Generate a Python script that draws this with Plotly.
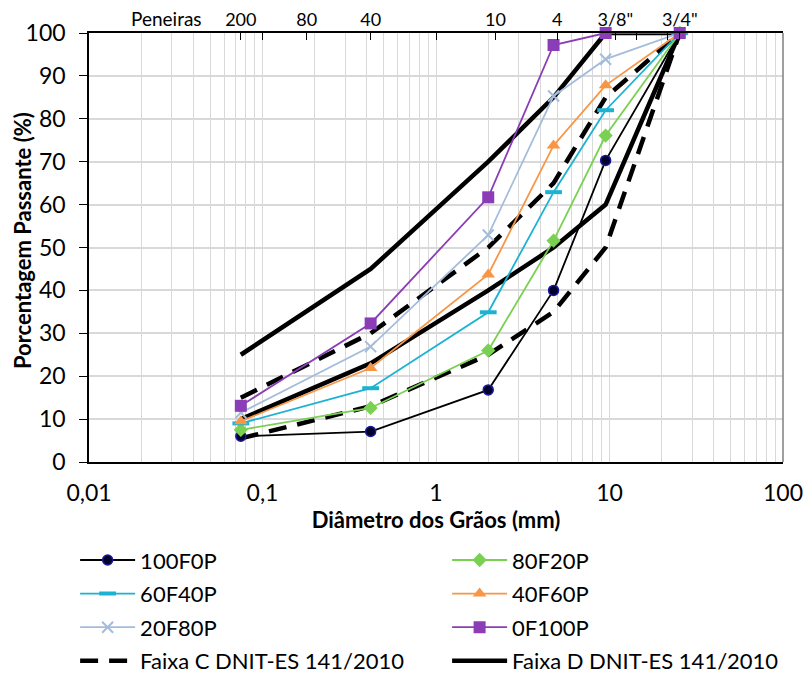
import plotly.graph_objects as go

# ---- data ----
sieve_mm = [0.075, 0.42, 2.0, 4.76, 9.5, 25.4]

s_100F0P = [6.0, 7.1, 16.8, 40.0, 70.3, 100]
s_80F20P = [7.5, 12.6, 26.0, 51.6, 76.1, 100]
s_60F40P = [9.0, 17.2, 34.9, 62.9, 82.0, 100]
s_40F60P = [9.5, 21.9, 43.7, 73.8, 87.8, 100]
s_20F80P = [11.5, 26.9, 52.9, 85.3, 93.9, 100]
s_0F100P = [13.1, 32.3, 61.7, 97.2, 100, 100]

faixa_c_upper = [15, 30, 50, 65, 85, 100]
faixa_c_lower = [5.5, 13, 25, 35, 50, 100]
faixa_d_upper = [25, 45, 70, 85, 100, 100]
faixa_d_lower = [10, 23, 40, 50, 60, 100]

top_sieve_mm = [0.075, 0.1, 0.18, 0.42, 1.0, 2.2, 5.0, 10.8, 14.4, 21.7, 25.4]
top_sieve_labels = ['200', '', '80', '40', '', '10', '4', '3/8"', '', '', '3/4"']

x_tick_vals = [0.01, 0.1, 1, 10, 100]
x_tick_text = ['0,01', '0,1', '1', '10', '100']
y_tick_vals = list(range(0, 101, 10))

FONT = "Lato"

fig = go.Figure()

# specification envelopes drawn first (underneath the sample curves)
fig.add_trace(go.Scatter(
    x=sieve_mm + [None] + sieve_mm, y=faixa_c_upper + [None] + faixa_c_lower,
    mode="lines", name="Faixa C DNIT-ES 141/2010",
    line=dict(color="black", width=4.5, dash="18px,11px"), legend="legend",
    legendgroup="c", legendrank=1000,
))
fig.add_trace(go.Scatter(
    x=sieve_mm + [None] + sieve_mm, y=faixa_d_upper + [None] + faixa_d_lower,
    mode="lines", name="Faixa D DNIT-ES 141/2010",
    line=dict(color="black", width=4.5), legend="legend2",
    legendgroup="d", legendrank=1000,
))

series = [
    ("100F0P", s_100F0P, "#000000", dict(symbol="circle", size=10, color="#00002a", line=dict(color="#1a1aa0", width=1.5)), "legend"),
    ("80F20P", s_80F20P, "#7ad151", dict(symbol="diamond", size=11, color="#7ad151"), "legend2"),
    ("60F40P", s_60F40P, "#1bb3d1", dict(symbol="line-ew", size=12, color="#1bb3d1", line=dict(color="#1bb3d1", width=4)), "legend"),
    ("40F60P", s_40F60P, "#f79646", dict(symbol="triangle-up", size=12, color="#f79646"), "legend2"),
    ("20F80P", s_20F80P, "#a4bcdc", dict(symbol="x-thin", size=11, color="#a4bcdc", line=dict(color="#a4bcdc", width=2)), "legend"),
    ("0F100P", s_0F100P, "#8a3db6", dict(symbol="square", size=12, color="#8a3db6"), "legend2"),
]
for i, (name, ys, col, mk, lg) in enumerate(series):
    fig.add_trace(go.Scatter(
        x=sieve_mm, y=ys, mode="lines+markers", name=name,
        line=dict(color=col, width=1.8), marker=mk, legend=lg,
        legendgroup=name, legendrank=100 + i, cliponaxis=False,
    ))

# dummy trace to activate the top axis
fig.add_trace(go.Scatter(x=top_sieve_mm, y=[None] * len(top_sieve_mm), xaxis="x2",
                         showlegend=False, hoverinfo="skip", mode="markers"))

grid = "#d9d9d9"
fig.update_layout(
    width=803, height=673,
    margin=dict(l=89, r=20, t=33, b=211, autoexpand=False),
    paper_bgcolor="white", plot_bgcolor="white",
    font=dict(family=FONT, color="black", size=22),
    separators=", ",
    xaxis=dict(
        type="log", range=[-2, 2],
        tickvals=x_tick_vals, ticktext=x_tick_text,
        showgrid=True, gridcolor=grid, gridwidth=1,
        minor=dict(dtick="D1", showgrid=True, gridcolor=grid, gridwidth=1, ticks=""),
        showline=True, linecolor="black", linewidth=1.5,
        ticks="", ticklabelstandoff=10, ticklabeloverflow="allow",
        tickfont=dict(size=23),
        title=dict(text="<b>Diâmetro dos Grãos (mm)</b>", font=dict(size=22), standoff=6),
        zeroline=False,
    ),
    xaxis2=dict(
        type="log", range=[-2, 2], overlaying="x", side="top", anchor="y",
        tickvals=top_sieve_mm, ticktext=top_sieve_labels,
        ticks="inside", ticklen=7, tickcolor="black", tickwidth=1,
        showgrid=False, showline=True, linecolor="black", linewidth=1.5,
        tickfont=dict(size=18), ticklabelstandoff=-2, ticklabeloverflow="allow",
    ),
    yaxis=dict(
        range=[0, 100], tickvals=y_tick_vals,
        showgrid=True, gridcolor=grid, gridwidth=1.5,
        showline=True, linecolor="black", linewidth=1.5,
        ticks="outside", ticklen=8, tickcolor="black",
        tickfont=dict(size=23), ticklabelstandoff=9,
        zeroline=False,
    ),
    legend=dict(x=-0.020, y=-0.18, xanchor="left", yanchor="top",
                font=dict(size=22), itemwidth=55, tracegroupgap=2,
                bgcolor="rgba(0,0,0,0)", borderwidth=0),
    legend2=dict(x=0.516, y=-0.18, xanchor="left", yanchor="top",
                 font=dict(size=22), itemwidth=55, tracegroupgap=2,
                 bgcolor="rgba(0,0,0,0)", borderwidth=0),
    annotations=[
        dict(text="Peneiras", xref="paper", yref="paper", x=0.111, y=1.0,
             xanchor="center", yanchor="bottom", yshift=1, showarrow=False,
             font=dict(size=19)),
        dict(text="<b>Porcentagem Passante (%)</b>", xref="paper", yref="paper",
             x=0, y=0.515, xanchor="center", yanchor="middle", xshift=-67,
             textangle=-90, showarrow=False, font=dict(size=22)),
    ],
    shapes=[dict(type="line", xref="paper", yref="paper", x0=1, x1=1, y0=0, y1=1,
                 line=dict(color="#7f7f7f", width=1.5))],
    showlegend=True,
)

fig.write_html("out.html", config={"displayModeBar": False},
               post_script="document.body.style.margin='0';document.body.style.padding='0';")
